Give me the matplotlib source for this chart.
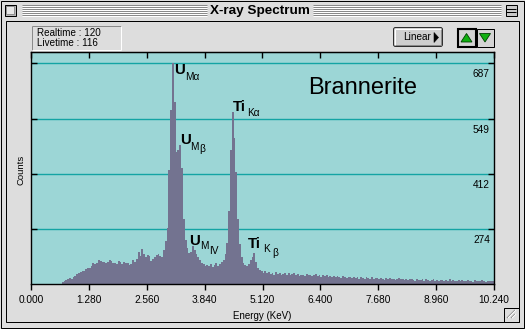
import numpy as np
import matplotlib
matplotlib.use('Agg')
import matplotlib.pyplot as plt
from matplotlib.patches import Rectangle, FancyBboxPatch, Polygon

W, H = 525, 329

# spectrum: counts per 0.04 keV channel starting at 0.68 keV
start_kev = 0.68
chan_kev = 0.04
counts = [
    142, 145, 147, 149, 152, 151, 155, 158, 162, 166,   # 0.68
    168, 171, 169, 174, 177, 176, 183, 189, 187, 190,   # 1.08
    196, 195, 191, 193, 189, 192, 197, 194, 189, 190,   # 1.48
    186, 194, 192, 188, 191, 189, 190, 185, 188, 196,   # 1.88
    193, 199, 218, 207, 224, 212, 204, 209, 207, 195,   # 2.28
    200, 204, 210, 213, 207, 204, 222, 245, 276, 420,   # 2.68
    570, 687, 590, 465, 470, 484, 425, 300, 248, 226,   # 3.08
    214, 218, 232, 222, 212, 205, 198, 190, 186, 183,   # 3.48
    185, 181, 186, 180, 184, 189, 182, 187, 192, 198,   # 3.88
    212, 240, 320, 470, 565, 500, 415, 300, 236, 205,   # 4.28
    190, 184, 182, 188, 196, 204, 214, 192, 178, 172,   # 4.68
    171, 166, 170, 165, 168, 163, 166, 161, 167, 163,   # 5.08
    165, 160, 163, 166, 161, 164, 159, 162, 165, 160,   # 5.48
    162, 158, 161, 160, 157, 163, 159, 161, 158, 160,   # 5.88
    163, 158, 161, 156, 159, 157, 160, 155, 158, 156,   # 6.28
    157, 154, 158, 155, 153, 157, 155, 152, 156, 154,   # 6.68
    153, 156, 152, 155, 151, 154, 153, 150, 154, 152,   # 7.08
    151, 154, 150, 153, 152, 149, 153, 151, 148, 152,   # 7.48
    150, 152, 149, 151, 148, 150, 152, 149, 151, 148,   # 7.88
    150, 147, 149, 151, 148, 146, 150, 148, 147, 149,   # 8.28
    146, 149, 147, 145, 148, 150, 146, 148, 145, 147,   # 8.68
    148, 145, 147, 146, 149, 145, 147, 144, 146, 148,   # 9.08
    145, 147, 144, 146, 148, 145, 146, 143, 147, 145,   # 9.48
    146, 144, 147, 145, 143, 146, 145, 144, 146,        # 9.88
]
edges = start_kev + chan_kev * np.arange(len(counts) + 1)

x_ticks = [0.000, 1.280, 2.560, 3.840, 5.120, 6.400, 7.680, 8.960, 10.240]
y_grid = [274, 412, 549, 687]
y_lo, y_hi = 137.4, 715

GRAY = '#dddddd'
PLOT_BG = '#9cd6d6'
FILL = '#737390'
GRID = '#14a4a4'
UI = 'Liberation Sans'

fig = plt.figure(figsize=(W / 100, H / 100), dpi=100)
fig.patch.set_facecolor(GRAY)

# window chrome drawn in pixel coordinates
bg = fig.add_axes([0, 0, 1, 1])
bg.set_xlim(0, W)
bg.set_ylim(H, 0)
bg.axis('off')

px = 0.72


def rect(x0, y0, x1, y1, fc='none', ec='black', lw=px, z=2):
    bg.add_patch(Rectangle((x0, y0), x1 - x0, y1 - y0, facecolor=fc,
                           edgecolor=ec, linewidth=lw, zorder=z))


def line(xs, ys, c='black', lw=px):
    bg.plot(xs, ys, color=c, lw=lw, solid_capstyle='butt', zorder=3)


rect(0.5, 0.5, 523.5, 327.5)
line([524.5, 524.5], [2, 329])
line([2, 525], [328.5, 328.5])

# title bar stripes
for y in range(5, 17, 2):
    line([22, 207], [y - 0.5, y - 0.5], '#8a8a8a')
    line([22, 207], [y + 0.5, y + 0.5], 'white')
    line([313, 501], [y - 0.5, y - 0.5], '#8a8a8a')
    line([313, 501], [y + 0.5, y + 0.5], 'white')
rect(4.5, 4.5, 15.5, 15.5, fc='#b8b8b8')
rect(6, 6, 14, 14, fc='#e8e8e8', ec='#909090')
rect(505.5, 4.5, 516.5, 15.5, fc='#c8c8c8')
for y in (8.5, 11.5):
    line([506, 516], [y, y])
bg.text(260, 11, 'X-ray Spectrum', ha='center', va='center',
        fontsize=9.7, fontweight='bold', family=UI)

# content frame
rect(5.5, 20.5, 518.5, 321.5)

# grow box
rect(503.5, 307.5, 518.5, 321.5, fc=GRAY)
for d in (0, 4, 8):
    line([507 + d, 515], [318, 310 + d], '#7a7a7a')
    line([508 + d, 516], [318, 310 + d], 'white')

# realtime / livetime box
line([31.5, 120.5], [25.5, 25.5], '#8a8a8a')
line([31.5, 31.5], [25.5, 49.5], '#8a8a8a')
line([31.5, 120.5], [49.5, 49.5], 'white')
line([120.5, 120.5], [25.5, 49.5], 'white')
bg.text(37, 33.3, 'Realtime : 120', ha='left', va='center', fontsize=7.1, family=UI)
bg.text(37, 42.7, 'Livetime : 116', ha='left', va='center', fontsize=7.1, family=UI)

# Linear button
bg.add_patch(FancyBboxPatch((393.5, 27.5), 49, 19, boxstyle='round,pad=0,rounding_size=2',
                            facecolor='#cfcfcf', edgecolor='#303030', linewidth=px, zorder=2))
line([395, 441], [28.8, 28.8], 'white')
line([394.8, 394.8], [29, 45], 'white')
line([395, 441], [45.2, 45.2], '#8a8a8a')
line([441.2, 441.2], [29, 45], '#8a8a8a')
bg.text(403.5, 37, 'Linear', ha='left', va='center', fontsize=7.2, family=UI)
bg.add_patch(Polygon([[434, 32.5], [438.5, 37.5], [434, 42.5]], closed=True,
                     facecolor='black', edgecolor='black', lw=0.4, zorder=4))

# arrow buttons
rect(457.5, 28.5, 475.5, 46.5, fc='#d4d4d4', lw=1.5)
rect(476.5, 28.5, 493.5, 46.5, fc='#d4d4d4')
bg.add_patch(Polygon([[461, 42], [472, 42], [466.5, 33.5]], closed=True,
                     facecolor='#10b010', edgecolor='#004000', lw=0.6, zorder=4))
bg.add_patch(Polygon([[479.5, 33.5], [490.5, 33.5], [485, 42]], closed=True,
                     facecolor='#10b010', edgecolor='#004000', lw=0.6, zorder=4))

# plot area
ax = fig.add_axes([31 / W, 1 - 284 / H, 463 / W, 232 / H])
ax.set_facecolor(PLOT_BG)
ax.stairs(counts, edges, fill=True, baseline=0, color=FILL, zorder=2)
ax.set_xlim(0, 10.24)
ax.set_ylim(y_lo, y_hi)
for s in ax.spines.values():
    s.set_linewidth(1.0)
    s.set_color('black')

ax.set_yticks(y_grid)
ax.yaxis.grid(True, color=GRID, lw=1.0, zorder=1)
ax.set_axisbelow(True)
ax.tick_params(axis='y', direction='in', left=True, right=True, length=4,
               width=1.0, labelleft=False)
for v in y_grid:
    ax.annotate(str(v), xy=(1, v), xycoords=('axes fraction', 'data'),
                xytext=(-3, -8), textcoords='offset points', ha='right',
                va='center', fontsize=7.3, family=UI)

ax.set_xticks(x_ticks)
ax.set_xticklabels(['%.3f' % t for t in x_ticks], fontsize=7.3, family=UI)
ax.tick_params(axis='x', direction='out', length=4, width=1.0, pad=4)
top = ax.secondary_xaxis('top')
top.set_xticks(x_ticks)
top.set_xticklabels([])
top.tick_params(direction='in', length=4, width=1.0)

bg.text(262, 316, 'Energy (KeV)', ha='center', va='center', fontsize=7, family=UI)
bg.text(21.5, 170, 'Counts', ha='center', va='center', rotation=90, fontsize=6.8, family=UI)

ax.text(0.717, 0.845, 'Brannerite', transform=ax.transAxes, ha='center',
        va='center', fontsize=17, family=UI)

# overlay for peak labels (pixel positions)
ov = fig.add_axes([0, 0, 1, 1])
ov.set_xlim(0, W)
ov.set_ylim(H, 0)
ov.axis('off')
ov.patch.set_alpha(0)


def big(x, y, s):
    ov.text(x, y, s, ha='left', va='center', fontsize=10.8, fontweight='bold', family=UI)


def small(x, y, s):
    ov.text(x, y, s, ha='left', va='center', fontsize=7.3, family=UI)


big(174.5, 70, 'U')
small(185.5, 77, 'M\u03b1')
big(180.5, 140, 'U')
small(190.5, 146.5, 'M')
small(199.5, 149.5, '\u03b2')
big(232.5, 107, 'Ti')
small(247.5, 112.5, 'K\u03b1')
big(189.5, 241, 'U')
small(200.5, 246, 'M')
small(209.5, 250.5, 'IV')
big(248, 244.5, 'Ti')
small(263, 248.5, 'K')
small(272, 252.5, '\u03b2')

fig.savefig('out.png', dpi=100, facecolor=GRAY)
